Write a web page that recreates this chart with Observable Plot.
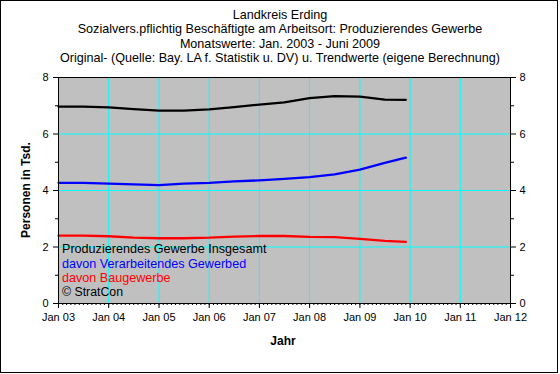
<!DOCTYPE html>
<html>
<head>
<meta charset="utf-8">
<script src="https://cdn.jsdelivr.net/npm/d3@7"></script>
<script src="https://cdn.jsdelivr.net/npm/@observablehq/plot@0.6"></script>
<style>
  html, body { margin: 0; padding: 0; background: #fff; }
  #wrap { position: relative; width: 560px; height: 374px; font-family: "Liberation Sans", Arial, sans-serif; color: #000; }
  #border { position: absolute; left: 0; top: 0; width: 556px; height: 371px; border: 1px solid #000; pointer-events: none; }
  .t { position: absolute; white-space: nowrap; font-size: 12.6px; line-height: 13px; }
  .title { left: 0; width: 560px; text-align: center; }
  #chart { position: absolute; left: 0; top: 0; }
</style>
</head>
<body>
<div id="wrap">
  <div id="chart"></div>
  <div id="border"></div>
</div>
<script>
// ---- data ----
const titleLines = [
  "Landkreis Erding",
  "Sozialvers.pflichtig Beschäftigte am Arbeitsort: Produzierendes Gewerbe",
  "Monatswerte: Jan. 2003 - Juni 2009",
  "Original- (Quelle: Bay. LA f. Statistik u. DV) u. Trendwerte (eigene Berechnung)"
];
const yLabel = "Personen in Tsd.";
const xLabel = "Jahr";
const seriesNames = ["Produzierendes Gewerbe Insgesamt", "davon Verarbeitendes Gewerbed", "davon Baugewerbe"];
const credit = "© StratCon";

const dates = ["2003-01","2003-07","2004-01","2004-07","2005-01","2005-07","2006-01","2006-07",
               "2007-01","2007-07","2008-01","2008-07","2009-01","2009-07","2009-12"];
const insgesamt   = [6.97, 6.97, 6.94, 6.88, 6.83, 6.83, 6.87, 6.95, 7.04, 7.12, 7.27, 7.34, 7.32, 7.22, 7.21];
const verarbeitend = [4.27, 4.27, 4.24, 4.22, 4.19, 4.24, 4.27, 4.32, 4.36, 4.41, 4.47, 4.57, 4.74, 4.98, 5.16];
const bau          = [2.40, 2.40, 2.38, 2.33, 2.31, 2.31, 2.33, 2.37, 2.39, 2.39, 2.36, 2.35, 2.29, 2.22, 2.18];

const xTickLabels = ["Jan 03","Jan 04","Jan 05","Jan 06","Jan 07","Jan 08","Jan 09","Jan 10","Jan 11","Jan 12"];
const yMajorTicks = [0, 2, 4, 6, 8];
const yMinorTicks = [1, 3, 5, 7];
const yGrid = [2, 4, 6];
const colors = ["#000000", "#0000ff", "#ff0000"];

// ---- build ----
const parse = d3.utcParse("%Y-%m");
const yearDates = xTickLabels.map((_, i) => new Date(Date.UTC(2003 + i, 0, 1)));
const months = d3.utcMonth.range(yearDates[0], yearDates[yearDates.length - 1]);
const mk = vals => dates.map((d, i) => ({date: parse(d), v: vals[i]}));
const series = [insgesamt, verarbeitend, bau].map(mk);

const plot = Plot.plot({
  width: 560, height: 374,
  marginLeft: 58, marginRight: 50, marginTop: 77, marginBottom: 71,
  style: {fontFamily: "'Liberation Sans', Arial, sans-serif", fontSize: "11px", background: "transparent", color: "#000"},
  x: {type: "utc", domain: [yearDates[0], yearDates[yearDates.length - 1]]},
  y: {domain: [0, 8]},
  marks: [
    Plot.frame({fill: "#c0c0c0"}),
    Plot.ruleX(yearDates.slice(1, -1), {stroke: "#00ffff", strokeWidth: 1}),
    Plot.ruleY(yGrid, {stroke: "#00ffff", strokeWidth: 1}),
    ...series.map((s, i) => Plot.line(s, {x: "date", y: "v", stroke: colors[i], strokeWidth: 2.3})),
    Plot.frame({stroke: "#000", strokeWidth: 1}),
    Plot.axisX(yearDates, {tickSize: 5, tickPadding: 5, tickFormat: d => xTickLabels[d.getUTCFullYear() - 2003], label: null}),
    Plot.axisX(months, {tickSize: 2, tickFormat: () => "", label: null}),
    Plot.axisY(yMajorTicks, {anchor: "left", tickSize: 5, tickPadding: 5, label: null}),
    Plot.axisY(yMinorTicks, {anchor: "left", tickSize: 3, tickFormat: () => "", label: null}),
    Plot.axisY(yMajorTicks, {anchor: "right", tickSize: 5, tickPadding: 4, label: null}),
    Plot.axisY(yMinorTicks, {anchor: "right", tickSize: 3, tickFormat: () => "", label: null})
  ]
});
document.getElementById("chart").appendChild(plot);

const wrap = document.getElementById("wrap");
function addText(txt, css, color) {
  const el = document.createElement("div");
  el.className = "t";
  el.textContent = txt;
  Object.assign(el.style, css);
  if (color) el.style.color = color;
  wrap.appendChild(el);
  return el;
}
titleLines.forEach((t, i) => {
  const el = addText(t, {top: (8.5 + i * 14.5) + "px"});
  el.classList.add("title");
});
// legend inside plot
const legTops = [244, 258.5, 273, 287];
seriesNames.forEach((n, i) => addText(n, {left: "62px", top: legTops[i] + "px", lineHeight: "11px"}, colors[i]));
addText(credit, {left: "62px", top: legTops[3] + "px", lineHeight: "11px", fontSize: "12.3px"}, "#000");
// axis titles
addText(yLabel, {left: "26px", top: "190px", fontWeight: "bold", fontSize: "12px", transform: "translate(-50%,-50%) rotate(-90deg)"});
addText(xLabel, {left: "283px", top: "341px", fontWeight: "bold", fontSize: "12px", transform: "translate(-50%,-50%)"});
</script>
</body>
</html>
